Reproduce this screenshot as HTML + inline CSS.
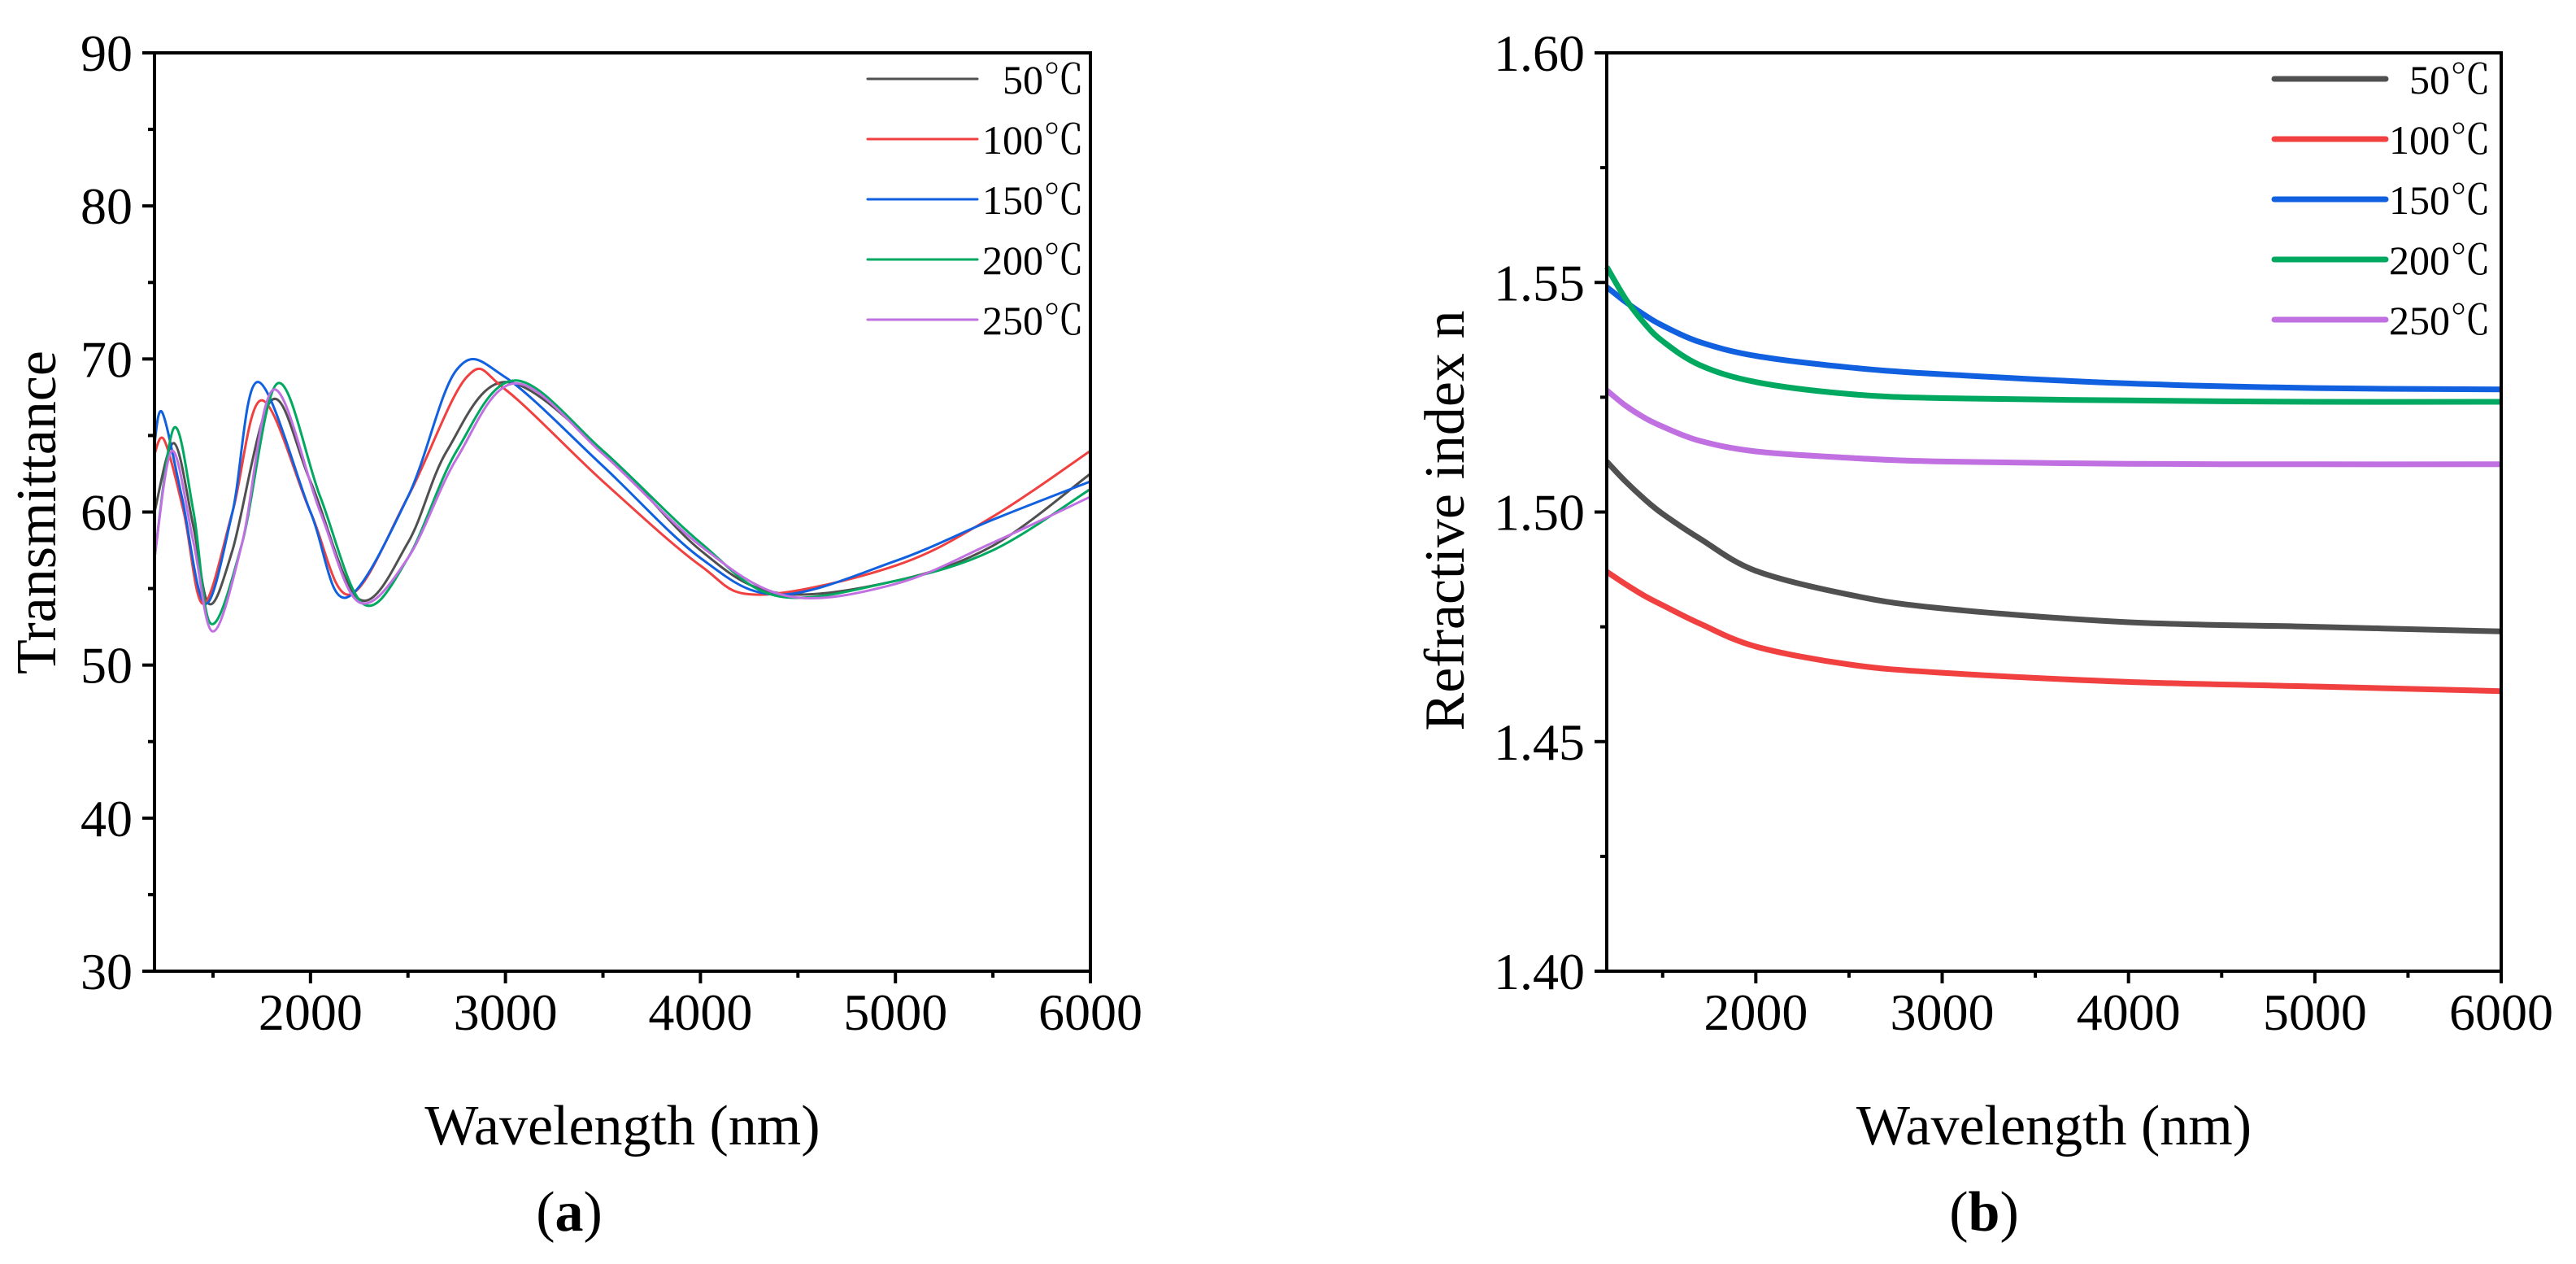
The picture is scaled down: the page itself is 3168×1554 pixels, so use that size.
<!DOCTYPE html>
<html><head><meta charset="utf-8"><style>
html,body{margin:0;padding:0;background:#fff;}
svg{display:block;font-family:"Liberation Serif","Noto Serif CJK SC",serif;}
</style></head><body>
<svg id="fig" width="3168" height="1554" viewBox="0 0 3168 1554" xmlns="http://www.w3.org/2000/svg">
<g id="pa"></g>
<g id="pb"></g>
</svg>
<script>
// ---- Panel (a) data: transmittance ----
const seriesLabels = ["50℃","100℃","150℃","200℃","250℃"];
const seriesColors = ["#505050","#f04040","#1060e0","#00a860","#c070e0"];
const aX50 = [1200,1300,1400,1480,1600,1800,2000,2250,2500,2700,3000,3500,4000,4400,5000,5500,6000];
const aY50 = [60,64.5,59,54,57.5,67.3,62,54.3,58,64,68.5,64,57.5,54.7,55.5,57.8,62.5];
const aX100 = [1200,1250,1350,1450,1600,1750,2000,2200,2500,2800,3000,3500,4000,4300,5000,5500,6000];
const aY100 = [63.8,64.7,60,54,60,67.3,60,54.6,61,68.8,68,62,56.5,54.6,56.5,59.7,64];
const aX150 = [1200,1240,1340,1460,1600,1730,2000,2180,2500,2750,3000,3500,4000,4400,5000,5500,6000];
const aY150 = [64.5,66.5,61,54,60,68.5,60,54.4,61,69.3,68.8,63,57,54.6,56.8,59.5,62];
const aX200 = [1200,1300,1400,1490,1650,1830,2050,2270,2500,2750,3050,3500,4000,4400,5000,5500,6000];
const aY200 = [57,65.5,60,52.7,58,68.4,61,54,57,64,68.6,64,58,54.5,55.5,57.5,61.5];
const aX250 = [1200,1290,1400,1500,1650,1810,2050,2250,2500,2750,3050,3500,4000,4450,5000,5500,6000];
const aY250 = [57,64,58,52.2,58,68,60,54.1,57,63.5,68.4,63.8,57.8,54.5,55.3,58,61];
const aTicksX = [2000,3000,4000,5000,6000];
const aTicksY = [30,40,50,60,70,80,90];
// ---- Panel (b) data: refractive index ----
const bX = [1200,1300,1400,1500,1700,2000,2500,3000,4000,5000,6000];
const bY50 = [1.511,1.5067,1.5029,1.4996,1.4942,1.4872,1.482,1.479,1.476,1.475,1.474];
const bY100 = [1.487,1.4843,1.4818,1.4797,1.4757,1.4707,1.4668,1.465,1.463,1.462,1.461];
const bY150 = [1.549,1.5458,1.5430,1.5406,1.5370,1.5340,1.5315,1.530,1.528,1.527,1.5267];
const bY200 = [1.5534,1.5465,1.5412,1.5372,1.5320,1.5283,1.5257,1.5248,1.5243,1.524,1.524];
const bY250 = [1.5265,1.5232,1.5206,1.5186,1.5155,1.5132,1.5118,1.511,1.5105,1.5104,1.5104];
const bTicksX = [2000,3000,4000,5000,6000];
const bTicksY = ["1.40","1.45","1.50","1.55","1.60"];

const NS="http://www.w3.org/2000/svg";
function mk(parent,tag,attrs){const e=document.createElementNS(NS,tag);for(const k in attrs)e.setAttribute(k,attrs[k]);parent.appendChild(e);return e;}
function smooth(pts){let d="M"+pts[0][0].toFixed(1)+","+pts[0][1].toFixed(1);
 for(let i=0;i<pts.length-1;i++){const p0=pts[Math.max(0,i-1)],p1=pts[i],p2=pts[i+1],p3=pts[Math.min(pts.length-1,i+2)];
  const c1x=p1[0]+(p2[0]-p0[0])/6,c1y=p1[1]+(p2[1]-p0[1])/6,c2x=p2[0]-(p3[0]-p1[0])/6,c2y=p2[1]-(p3[1]-p1[1])/6;
  d+=" C"+c1x.toFixed(1)+","+c1y.toFixed(1)+" "+c2x.toFixed(1)+","+c2y.toFixed(1)+" "+p2[0].toFixed(1)+","+p2[1].toFixed(1);}
 return d;}

function panel(g,cfg){
 const L=cfg.L,R=cfg.R,T=65,B=1194;
 const xs=v=>L+(v-1200)/(6000-1200)*(R-L);
 const ys=v=>B-(v-cfg.ymin)/(cfg.ymax-cfg.ymin)*(B-T);
 cfg.series.forEach((s,i)=>{
  const p=mk(g,"path",{d:smooth(s.x.map((x,j)=>[xs(x),ys(s.y[j])])),fill:"none",stroke:seriesColors[i],"stroke-width":cfg.lw,"stroke-linejoin":"round"});
  
  
 });
 const fr=mk(g,"path",{d:`M${L},${T}H${R}V${B}H${L}Z`,fill:"none",stroke:"#000","stroke-width":4});
 
 
 for(let v=1500;v<=6000;v+=500){
  const major=v%1000===0;
  const t=mk(g,"line",{x1:xs(v),x2:xs(v),y1:B,y2:B+(major?15:8),stroke:"#000","stroke-width":4});
  
  
 }
 cfg.tx.forEach(v=>{
  const t=mk(g,"text",{x:xs(v),y:1266,"font-size":64,"text-anchor":"middle"});t.textContent=v;
  
  
 });
 const n=cfg.ty.length;
 for(let k=0;k<=2*(n-1);k++){
  const v=cfg.ymin+k*(cfg.ymax-cfg.ymin)/(2*(n-1));const major=k%2===0;
  const t=mk(g,"line",{x1:L-(major?15:8),x2:L,y1:ys(v),y2:ys(v),stroke:"#000","stroke-width":4});
  
  
 }
 cfg.ty.forEach(v=>{
  const t=mk(g,"text",{x:L-27,y:ys(+v)+22,"font-size":64,"text-anchor":"end"});t.textContent=v;
  
  
 });
 const xt=mk(g,"text",{x:(L+R)/2,y:1407,"font-size":70,"text-anchor":"middle"});xt.textContent="Wavelength (nm)";
 
 
 const yt=mk(g,"text",{x:0,y:0,"font-size":70,"text-anchor":"middle",transform:`translate(${cfg.ytx},${cfg.yty}) rotate(-90)`});yt.textContent=cfg.ytitle;
 
 
 const pl=mk(g,"text",{x:cfg.plx,y:1513,"font-size":70,"text-anchor":"middle"});
 pl.innerHTML='(<tspan font-weight="bold">'+cfg.letter+'</tspan>)';
 
 
 const rows=[97,171,245,319,393];
 seriesLabels.forEach((lab,i)=>{
  const ln=mk(g,"line",{x1:cfg.lgx1,x2:cfg.lgx2,y1:rows[i],y2:rows[i],stroke:seriesColors[i],"stroke-width":cfg.lglw,"stroke-linecap":"round"});
  
  
  const tx=mk(g,"text",{x:cfg.lgtx,y:rows[i]+18,"font-size":50,"text-anchor":"end"});tx.textContent=lab;
  
  
 });
}
panel(document.getElementById('pa'),{L:190,R:1341,ymin:30,ymax:90,lw:3,tx:aTicksX,ty:aTicksY,
 series:[{x:aX50,y:aY50},{x:aX100,y:aY100},{x:aX150,y:aY150},{x:aX200,y:aY200},{x:aX250,y:aY250}],
 ytitle:"Transmittance",ytx:68,yty:630,letter:"a",plx:700,lgx1:1067,lgx2:1202,lglw:3,lgtx:1333});
panel(document.getElementById('pb'),{L:1976,R:3076,ymin:1.40,ymax:1.60,lw:7,tx:bTicksX,ty:bTicksY,
 series:[{x:bX,y:bY50},{x:bX,y:bY100},{x:bX,y:bY150},{x:bX,y:bY200},{x:bX,y:bY250}],
 ytitle:"Refractive index n",ytx:1800,yty:640,letter:"b",plx:2440,lgx1:2797,lgx2:2934,lglw:7,lgtx:3063});
</script>
</body></html>
